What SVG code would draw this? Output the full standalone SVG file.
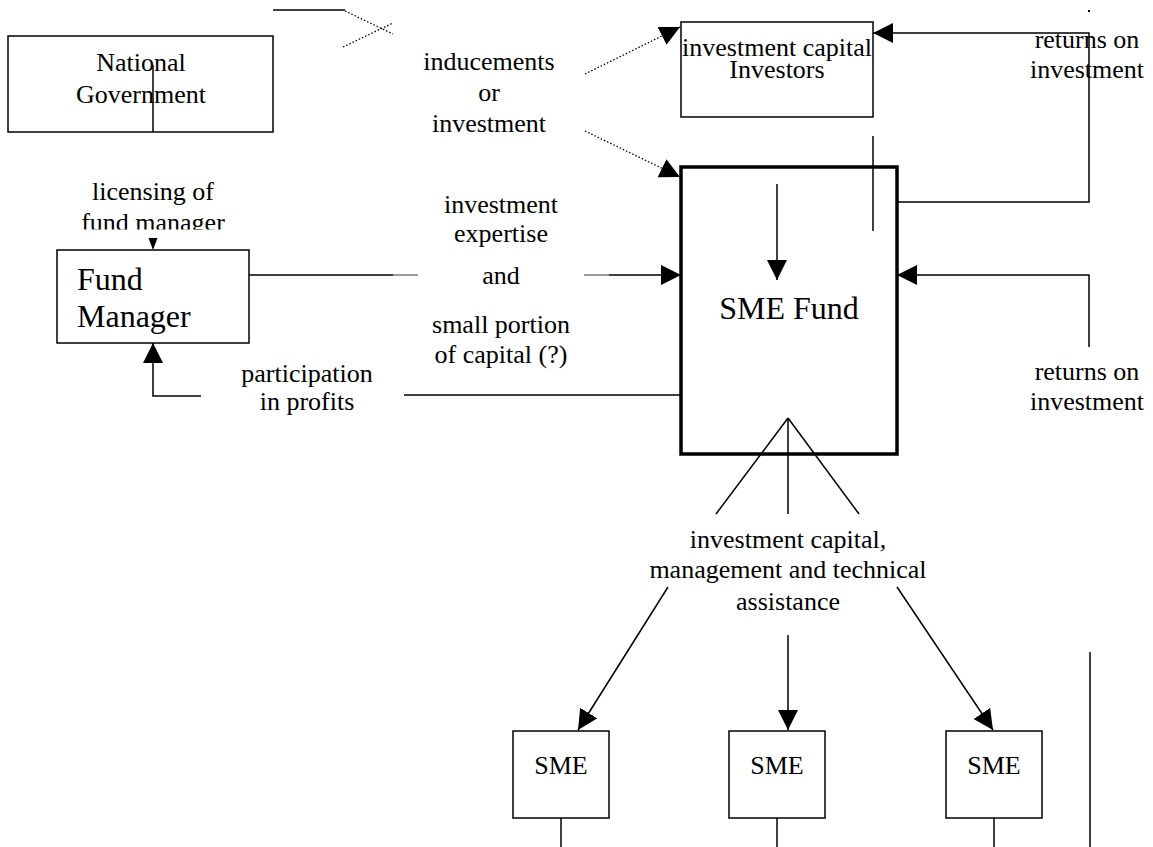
<svg xmlns="http://www.w3.org/2000/svg" width="1153" height="847" viewBox="0 0 1153 847">
<style>
  text { font-family: "Liberation Serif", "Times New Roman", serif; fill: #000; }
  .t26 { font-size: 26px; text-anchor: middle; }
  .t32 { font-size: 32px; }
  .box { fill: #fff; stroke: #000; stroke-width: 1.5; }
  .thick { fill: #fff; stroke: #000; stroke-width: 3.5; }
  .ln { fill: none; stroke: #000; stroke-width: 1.5; }
  .thin { fill: none; stroke: #000; stroke-width: 0.8; }
  .dot { fill: none; stroke: #000; stroke-width: 1.3; stroke-dasharray: 1.5 2; }
</style>
<defs>
  <marker id="ah" viewBox="0 0 20 20" refX="20" refY="10" markerWidth="20" markerHeight="20" markerUnits="userSpaceOnUse" orient="auto">
    <path d="M0,0 L20,10 L0,20 z" fill="#000"/>
  </marker>
  <clipPath id="clipLic"><rect x="0" y="0" width="400" height="229.5"/></clipPath>
</defs>
<rect width="1153" height="847" fill="#fff"/>

<g id="national-government">
  <rect class="box" x="8" y="36" width="265" height="96"/>
  <text class="t26" x="141" y="71">National</text>
  <text class="t26" x="141" y="103">Government</text>
</g>

<g id="investors">
  <rect class="box" x="681" y="22" width="192" height="95"/>
  <text class="t26" x="777" y="56">investment capital</text>
  <text class="t26" x="777" y="78">Investors</text>
</g>

<g id="sme-fund">
  <rect class="thick" x="681" y="167" width="216" height="287"/>
  <text class="t32" x="789" y="319" text-anchor="middle">SME Fund</text>
</g>

<g id="fund-manager">
  <rect class="box" x="57" y="250" width="192" height="93"/>
  <text class="t32" x="77" y="290">Fund</text>
  <text class="t32" x="77" y="327">Manager</text>
</g>

<g id="sme-1">
  <rect class="box" x="513" y="731" width="96" height="87"/>
  <text class="t26" x="561" y="774">SME</text>
</g>
<g id="sme-2">
  <rect class="box" x="729" y="731" width="96" height="87"/>
  <text class="t26" x="777" y="774">SME</text>
</g>
<g id="sme-3">
  <rect class="box" x="946" y="731" width="96" height="87"/>
  <text class="t26" x="994" y="774">SME</text>
</g>

<g id="labels">
  <text class="t26" x="489" y="70">inducements</text>
  <text class="t26" x="489" y="101">or</text>
  <text class="t26" x="489" y="132">investment</text>
  <text class="t26" x="1087" y="48">returns on</text>
  <text class="t26" x="1087" y="78">investment</text>
  <text class="t26" x="153" y="200">licensing of</text>
  <text class="t26" x="153" y="231" clip-path="url(#clipLic)">fund manager</text>
  <text class="t26" x="501" y="213">investment</text>
  <text class="t26" x="501" y="242">expertise</text>
  <text class="t26" x="501" y="284">and</text>
  <text class="t26" x="501" y="333">small portion</text>
  <text class="t26" x="501" y="363">of capital (?)</text>
  <text class="t26" x="307" y="382">participation</text>
  <text class="t26" x="307" y="410">in profits</text>
  <text class="t26" x="1087" y="380">returns on</text>
  <text class="t26" x="1087" y="410">investment</text>
  <text class="t26" x="788" y="548">investment capital,</text>
  <text class="t26" x="788" y="578">management and technical</text>
  <text class="t26" x="788" y="610">assistance</text>
</g>

<g id="connectors">
  <line class="ln" x1="153" y1="65" x2="153" y2="132"/>
  <line class="ln" x1="273" y1="10" x2="345" y2="10"/>
  <line class="dot" x1="345" y1="11" x2="393" y2="34"/>
  <line class="dot" x1="343" y1="47" x2="393" y2="23"/>
  <line class="dot" x1="585" y1="74" x2="680" y2="27" marker-end="url(#ah)"/>
  <line class="dot" x1="585" y1="131" x2="680" y2="177" marker-end="url(#ah)"/>
  <polygon points="148.5,238 157.5,238 153,250" fill="#000"/>
  <polyline class="ln" points="898,202 1089,202 1089,33 873,33" marker-end="url(#ah)"/>
  <rect x="1088" y="10" width="2" height="2" fill="#000"/>
  <line class="ln" x1="873" y1="136" x2="873" y2="231"/>
  <line class="ln" x1="777" y1="184" x2="777" y2="280" marker-end="url(#ah)"/>
  <polyline class="ln" points="1089,347 1089,275 897,275" marker-end="url(#ah)"/>
  <line class="ln" x1="249" y1="275" x2="393" y2="275"/>
  <line class="thin" x1="393" y1="275" x2="418" y2="275"/>
  <line class="thin" x1="584" y1="275" x2="609" y2="275"/>
  <line class="ln" x1="609" y1="275" x2="681" y2="275" marker-end="url(#ah)"/>
  <line class="ln" x1="681" y1="395" x2="404" y2="395"/>
  <polyline class="ln" points="201,396 153,396 153,343" marker-end="url(#ah)"/>
  <line class="ln" x1="788" y1="418" x2="716" y2="514"/>
  <line class="ln" x1="788" y1="418" x2="788" y2="514"/>
  <line class="ln" x1="788" y1="418" x2="859" y2="514"/>
  <line class="ln" x1="668" y1="587" x2="578" y2="730" marker-end="url(#ah)"/>
  <line class="ln" x1="788" y1="635" x2="788" y2="730" marker-end="url(#ah)"/>
  <line class="ln" x1="897" y1="587" x2="993" y2="730" marker-end="url(#ah)"/>
  <line class="ln" x1="561" y1="818" x2="561" y2="847"/>
  <line class="ln" x1="777" y1="818" x2="777" y2="847"/>
  <line class="ln" x1="994" y1="818" x2="994" y2="847"/>
  <line class="ln" x1="1090" y1="652" x2="1090" y2="847"/>
</g>
</svg>
